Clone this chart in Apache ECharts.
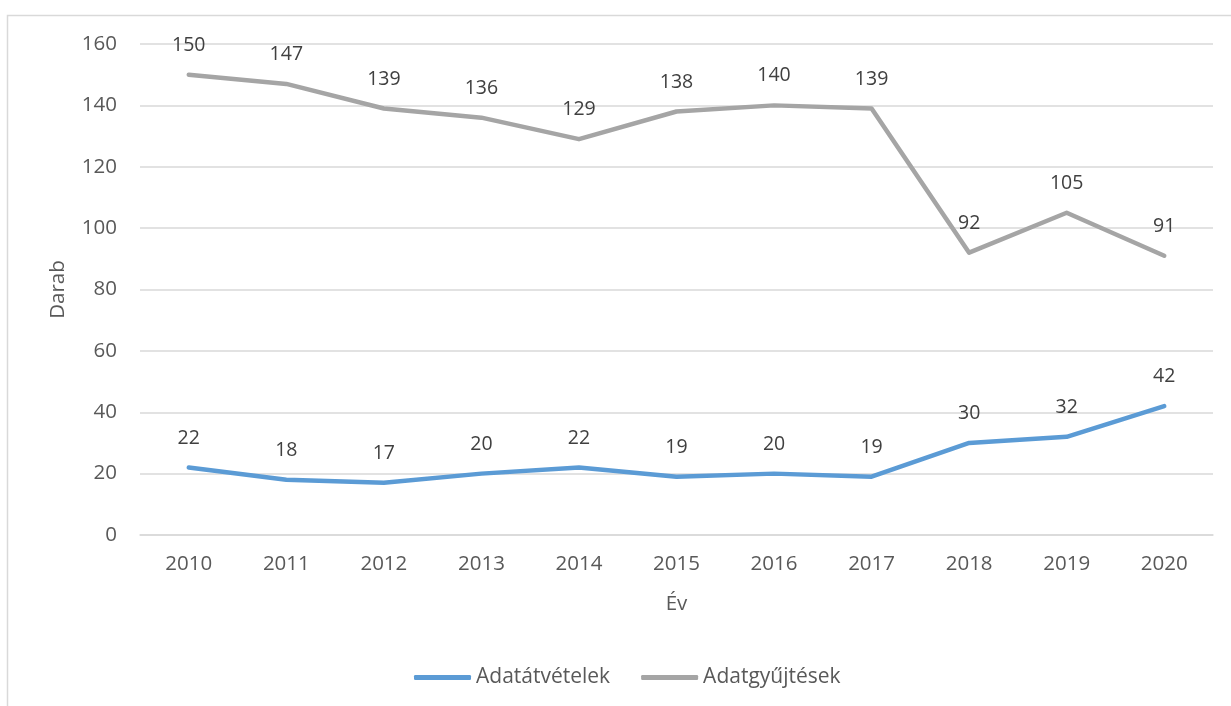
<!DOCTYPE html>
<html>
<head>
<meta charset="utf-8">
<script src="https://cdn.jsdelivr.net/npm/echarts@6/dist/echarts.min.js"></script>
<style>
html,body{margin:0;padding:0;background:#fff;}
#chart{width:1231px;height:706px;}
</style>
</head>
<body>
<div id="chart"></div>
<script>
// adatok
const years = ['2010','2011','2012','2013','2014','2015','2016','2017','2018','2019','2020']
const adatatvetelek = [22,18,17,20,22,19,20,19,30,32,42]
const adatgyujtesek = [150,147,139,136,129,138,140,139,92,105,91]
const yMin = 0, yMax = 160, yStep = 20

const font = '"Open Sans", "Liberation Sans", sans-serif'
const chart = echarts.init(document.getElementById('chart'))

function lineSeries(name, data, color){
    return {
        name: name,
        type: 'line',
        data: data,
        symbol: 'circle',
        symbolSize: 1,
        lineStyle: {width: 4.5, color: color, cap: 'round', join: 'round'},
        itemStyle: {color: color},
        label: {
            show: true,
            position: 'top',
            distance: 19,
            color: '#404040',
            fontSize: 19.5,
            fontFamily: font
        },
        emphasis: {disabled: true}
    }
}

chart.setOption({
    animation: false,
    graphic: [{
        type: 'rect',
        shape: {x: 7.5, y: 15.5, width: 1300, height: 800},
        style: {fill: 'none', stroke: '#d9d9d9', lineWidth: 1.5},
        silent: true
    }],
    grid: {left: 140, right: 18, top: 44, bottom: 171, containLabel: false},
    legend: {
        bottom: 13,
        left: 409,
        itemGap: 31,
        itemWidth: 57,
        itemHeight: 5,
        icon: 'roundRect',
        textStyle: {color: '#595959', fontSize: 21, fontFamily: font},
        data: ['Adatátvételek', 'Adatgyűjtések']
    },
    xAxis: {
        type: 'category',
        data: years,
        boundaryGap: true,
        name: 'Év',
        nameLocation: 'middle',
        nameGap: 59,
        nameTextStyle: {color: '#595959', fontSize: 20.5, fontFamily: font},
        axisLine: {lineStyle: {color: '#d9d9d9', width: 1.5}},
        axisTick: {show: false},
        axisLabel: {color: '#595959', fontSize: 20.5, fontFamily: font, margin: 19}
    },
    yAxis: {
        type: 'value',
        min: yMin,
        max: yMax,
        interval: yStep,
        name: 'Darab',
        nameLocation: 'middle',
        nameGap: 71,
        nameTextStyle: {color: '#595959', fontSize: 20.5, fontFamily: font},
        axisLine: {show: false},
        axisTick: {show: false},
        axisLabel: {color: '#595959', fontSize: 20.5, fontFamily: font, margin: 23},
        splitLine: {lineStyle: {color: '#d9d9d9', width: 1.5}}
    },
    series: [
        lineSeries('Adatátvételek', adatatvetelek, '#5b9bd5'),
        lineSeries('Adatgyűjtések', adatgyujtesek, '#a5a5a5')
    ]
})
</script>
</body>
</html>
